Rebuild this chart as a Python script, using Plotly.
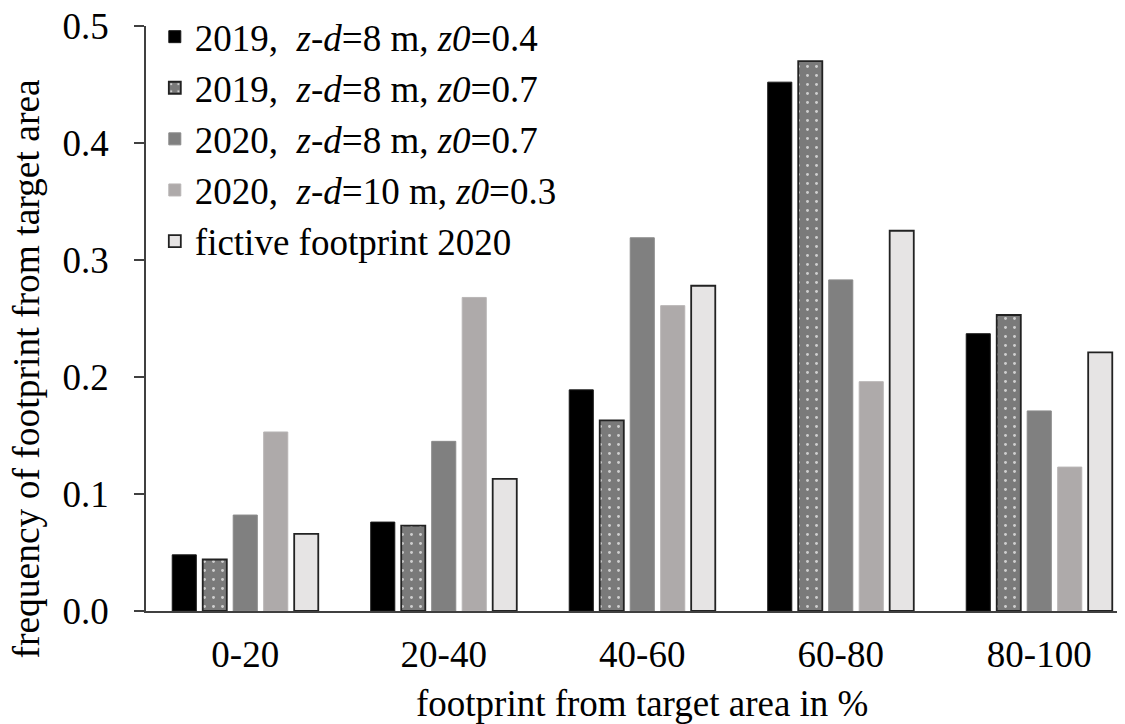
import plotly.graph_objects as go

categories = ["0-20", "20-40", "40-60", "60-80", "80-100"]
series_names = [
    "2019,&nbsp; <i>z-d</i>=8 m, <i>z0</i>=0.4",
    "2019,&nbsp; <i>z-d</i>=8 m, <i>z0</i>=0.7",
    "2020,&nbsp; <i>z-d</i>=8 m, <i>z0</i>=0.7",
    "2020,&nbsp; <i>z-d</i>=10 m, <i>z0</i>=0.3",
    "fictive footprint 2020",
]
s2019_z04 = [0.048, 0.076, 0.189, 0.452, 0.237]
s2019_z07 = [0.044, 0.073, 0.163, 0.470, 0.253]
s2020_z07 = [0.082, 0.145, 0.319, 0.283, 0.171]
s2020_zd10 = [0.153, 0.268, 0.261, 0.196, 0.123]
s_fictive = [0.066, 0.113, 0.278, 0.325, 0.221]
y_ticks = [0.0, 0.1, 0.2, 0.3, 0.4, 0.5]
x_title = "footprint from target area in %"
y_title = "frequency of footprint from target area"

FONT = "Liberation Serif, Times New Roman, serif"

fig = go.Figure()
fig.add_trace(go.Bar(x=categories, y=s2019_z04, name=series_names[0],
                     marker=dict(color="#000000", line=dict(color="#1a1a1a", width=1))))
fig.add_trace(go.Bar(x=categories, y=s2019_z07, name=series_names[1],
                     marker=dict(color="#7a7a7a", line=dict(color="#222222", width=1.8),
                                 pattern=dict(shape=".", fgcolor="#d0d0d0", bgcolor="#7a7a7a",
                                              size=9, solidity=0.08, fillmode="replace"))))
fig.add_trace(go.Bar(x=categories, y=s2020_z07, name=series_names[2],
                     marker=dict(color="#808080", line=dict(color="#8a8a8a", width=1))))
fig.add_trace(go.Bar(x=categories, y=s2020_zd10, name=series_names[3],
                     marker=dict(color="#aeaaaa", line=dict(color="#b8b5b5", width=1))))
fig.add_trace(go.Bar(x=categories, y=s_fictive, name=series_names[4],
                     marker=dict(color="#e6e4e4", line=dict(color="#222222", width=1.8))))

fig.update_layout(
    width=1117, height=716,
    margin=dict(l=138, r=0, t=18, b=113, autoexpand=False),
    paper_bgcolor="white", plot_bgcolor="white",
    barmode="group", bargap=0.232, bargroupgap=0.21,
    font=dict(family=FONT, size=37, color="black"),
    showlegend=True,
    legend=dict(x=0.009, y=1.034, xanchor="left", yanchor="top",
                bgcolor="rgba(0,0,0,0)", font=dict(family=FONT, size=37, color="black"),
                traceorder="normal"),
    annotations=[
        dict(text=x_title, xref="paper", yref="paper", x=0.5063, y=-0.158,
             xanchor="center", yanchor="middle", showarrow=False,
             font=dict(family=FONT, size=37, color="black")),
        dict(text=y_title, xref="paper", yref="paper", x=-0.122, y=0.4137,
             xanchor="center", yanchor="middle", showarrow=False, textangle=-90,
             font=dict(family=FONT, size=37.5, color="black")),
    ],
)
fig.update_xaxes(
    range=[-0.5, 4.432], showline=True, linecolor="#404040", linewidth=1.5,
    ticks="", showgrid=False, zeroline=False, ticklabelstandoff=10,
    tickfont=dict(family=FONT, size=37, color="black"),
)
fig.update_yaxes(
    range=[0, 0.5], tickvals=y_ticks, tickformat=".1f",
    showline=True, linecolor="#404040", linewidth=1.5,
    ticks="outside", ticklen=10, tickwidth=1.5, tickcolor="#404040",
    showgrid=False, zeroline=False, ticklabelstandoff=18,
    ticklabeloverflow="allow",
    tickfont=dict(family=FONT, size=37, color="black"),
)

fig.write_html("out.html")
